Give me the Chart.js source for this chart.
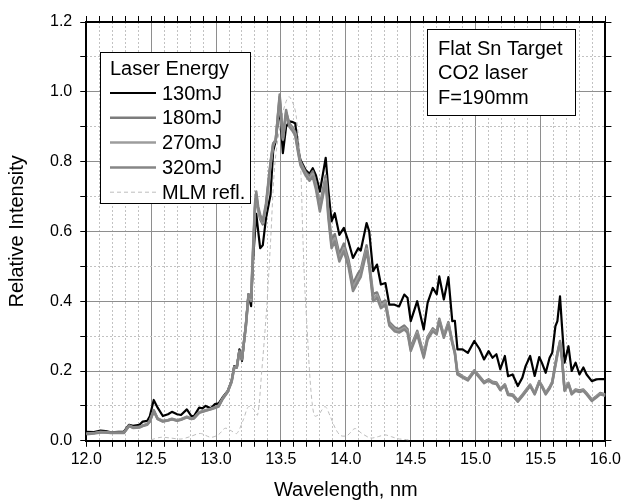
<!DOCTYPE html>
<html><head><meta charset="utf-8">
<script src="https://cdn.jsdelivr.net/npm/chart.js@4.4.0/dist/chart.umd.min.js"></script>
<style>html,body{margin:0;padding:0;background:#fff}canvas{display:block}</style>
</head><body>
<canvas id="c" width="624" height="502"></canvas>
<script>
// ---- data ----
const wavelength = [
12.00,12.06,12.11,12.15,12.19,12.25,12.29,12.33,12.36,12.41,
12.435,12.47,12.49,12.52,12.55,12.59,12.63,12.66,12.70,12.73,
12.775,12.81,12.83,12.87,12.895,12.92,12.96,12.99,13.02,13.05,
13.09,13.12,13.14,13.16,13.18,13.20,13.23,13.25,13.27,13.285,
13.30,13.31,13.325,13.34,13.36,13.385,13.42,13.44,13.46,13.49,
13.515,13.54,13.565,13.585,13.61,13.635,13.65,13.69,13.72,13.745,
13.77,13.80,13.845,13.865,13.89,13.915,13.95,13.985,14.02,14.055,
14.095,14.115,14.16,14.18,14.21,14.24,14.27,14.305,14.335,14.375,
14.41,14.45,14.475,14.50,14.55,14.60,14.63,14.67,14.70,14.72,
14.755,14.79,14.82,14.84,14.86,14.90,14.94,14.99,15.03,15.065,
15.10,15.13,15.16,15.19,15.225,15.25,15.285,15.325,15.36,15.385,
15.42,15.455,15.49,15.51,15.54,15.57,15.59,15.615,15.63,15.65,
15.665,15.685,15.715,15.74,15.77,15.80,15.83,15.855,15.895,15.93,
15.96,16.00];

const e130 = [
0.026,0.025,0.029,0.028,0.024,0.026,0.026,0.046,0.043,0.046,
0.055,0.057,0.070,0.117,0.095,0.071,0.076,0.083,0.076,0.074,
0.090,0.071,0.071,0.095,0.093,0.100,0.093,0.105,0.107,0.124,
0.143,0.171,0.214,0.210,0.262,0.229,0.334,0.420,0.386,0.514,
0.600,0.650,0.600,0.552,0.560,0.638,0.705,0.830,0.860,0.960,
0.824,0.900,0.915,0.914,0.910,0.830,0.805,0.776,0.765,0.781,
0.760,0.714,0.811,0.720,0.629,0.652,0.590,0.610,0.571,0.524,
0.552,0.545,0.624,0.600,0.486,0.505,0.448,0.452,0.390,0.390,
0.385,0.419,0.410,0.343,0.400,0.319,0.395,0.438,0.420,0.471,
0.405,0.469,0.343,0.344,0.262,0.262,0.252,0.286,0.263,0.233,
0.257,0.238,0.248,0.205,0.243,0.185,0.190,0.157,0.181,0.214,
0.243,0.186,0.240,0.224,0.195,0.238,0.252,0.329,0.343,0.414,
0.330,0.224,0.271,0.200,0.224,0.190,0.210,0.190,0.171,0.176,
0.177,0.177];

const e180 = [
0.021,0.022,0.025,0.025,0.023,0.023,0.023,0.044,0.039,0.040,
0.044,0.048,0.058,0.088,0.064,0.057,0.060,0.063,0.059,0.062,
0.069,0.064,0.066,0.082,0.085,0.088,0.092,0.096,0.100,0.121,
0.142,0.172,0.212,0.212,0.258,0.233,0.332,0.418,0.400,0.535,
0.665,0.700,0.660,0.635,0.620,0.670,0.795,0.850,0.862,0.985,
0.862,0.940,0.910,0.900,0.885,0.830,0.800,0.770,0.758,0.772,
0.738,0.675,0.760,0.662,0.575,0.592,0.535,0.565,0.520,0.450,
0.480,0.490,0.560,0.512,0.420,0.425,0.395,0.402,0.340,0.325,
0.320,0.330,0.320,0.268,0.315,0.248,0.298,0.322,0.312,0.350,
0.302,0.340,0.285,0.255,0.195,0.185,0.177,0.202,0.185,0.169,
0.176,0.169,0.167,0.149,0.162,0.135,0.133,0.116,0.132,0.144,
0.161,0.137,0.171,0.159,0.137,0.154,0.169,0.222,0.252,0.283,
0.238,0.147,0.166,0.137,0.147,0.144,0.147,0.137,0.118,0.128,
0.137,0.133];

const e270 = [
0.020,0.022,0.025,0.024,0.023,0.023,0.023,0.042,0.038,0.039,
0.043,0.047,0.056,0.084,0.063,0.056,0.059,0.061,0.058,0.061,
0.068,0.063,0.065,0.081,0.084,0.087,0.091,0.095,0.099,0.120,
0.141,0.168,0.208,0.212,0.252,0.236,0.328,0.415,0.405,0.540,
0.670,0.705,0.665,0.640,0.625,0.675,0.790,0.845,0.865,0.975,
0.865,0.935,0.905,0.895,0.880,0.825,0.795,0.765,0.750,0.765,
0.730,0.665,0.750,0.650,0.562,0.580,0.522,0.552,0.508,0.438,
0.468,0.480,0.550,0.505,0.410,0.418,0.388,0.396,0.335,0.320,
0.315,0.324,0.315,0.262,0.310,0.243,0.294,0.318,0.309,0.346,
0.299,0.336,0.282,0.252,0.192,0.183,0.175,0.200,0.183,0.167,
0.174,0.167,0.165,0.147,0.160,0.133,0.131,0.114,0.130,0.142,
0.159,0.135,0.169,0.157,0.135,0.152,0.167,0.215,0.245,0.280,
0.236,0.145,0.164,0.135,0.145,0.142,0.145,0.135,0.116,0.126,
0.135,0.131];

const e320 = [
0.019,0.021,0.024,0.024,0.022,0.022,0.022,0.043,0.037,0.038,
0.042,0.046,0.055,0.086,0.062,0.055,0.058,0.062,0.057,0.060,
0.067,0.062,0.064,0.080,0.083,0.086,0.090,0.094,0.098,0.119,
0.140,0.170,0.210,0.210,0.255,0.235,0.330,0.420,0.410,0.550,
0.680,0.714,0.670,0.648,0.630,0.680,0.800,0.852,0.860,0.992,
0.870,0.948,0.900,0.890,0.875,0.820,0.790,0.760,0.745,0.757,
0.720,0.657,0.743,0.640,0.552,0.571,0.514,0.543,0.500,0.429,
0.457,0.470,0.543,0.500,0.400,0.410,0.380,0.390,0.330,0.314,
0.310,0.319,0.310,0.257,0.305,0.238,0.290,0.314,0.305,0.343,
0.295,0.333,0.280,0.250,0.190,0.181,0.173,0.198,0.181,0.165,
0.172,0.165,0.163,0.145,0.158,0.131,0.129,0.112,0.128,0.140,
0.157,0.133,0.167,0.155,0.133,0.150,0.165,0.219,0.250,0.286,
0.240,0.143,0.162,0.133,0.143,0.140,0.143,0.133,0.114,0.124,
0.133,0.129];

const mlmWavelength = [12.50,12.575,12.65,12.73,12.80,12.88,12.96,13.02,13.07,13.12,
13.16,13.21,13.25,13.29,13.32,13.35,13.39,13.42,13.455,13.51,
13.56,13.60,13.62,13.65,13.67,13.685,13.70,13.72,13.74,13.76,
13.79,13.84,13.88,13.92,13.96,14.01,14.07,14.12,14.19,14.25,
14.30,14.35,14.40,14.45,14.50];
const mlmRefl = [0.003,0.010,0.008,0.005,0.012,0.021,0.010,0.018,0.036,0.028,
0.021,0.060,0.098,0.090,0.074,0.190,0.380,0.570,0.800,0.933,
0.986,0.960,0.924,0.800,0.571,0.430,0.333,0.200,0.110,0.071,
0.075,0.098,0.070,0.035,0.015,0.015,0.035,0.022,0.008,0.012,
0.017,0.012,0.006,0.004,0.002];

const seriesLabels = ['130mJ','180mJ','270mJ','320mJ','MLM refl.'];
const legendTitle = 'Laser Energy';
const noteLines = ['Flat Sn Target','CO2 laser','F=190mm'];
const xMajorTicks = [12.0,12.5,13.0,13.5,14.0,14.5,15.0,15.5,16.0];
const yMajorTicks = [0.0,0.2,0.4,0.6,0.8,1.0,1.2];
const xTitle = 'Wavelength, nm';
const yTitle = 'Relative Intensity';

// ---- chart ----
const FONT = "'Liberation Sans', Arial, sans-serif";
const pts = (xs, ys) => xs.map((x, i) => ({x, y: ys[i]}));
const isMajor = (list, v) => list.some(t => Math.abs(t - v) < 1e-6);
const MAJOR_GRID = '#8e8e8e', MINOR_GRID = '#c2c2c2', CLEAR = 'rgba(0,0,0,0)';

const bg = { id: 'bg', beforeDraw(c) { const g = c.ctx; g.save(); g.fillStyle = '#fff'; g.fillRect(0, 0, c.width, c.height); g.restore(); } };

const boxes = {
  id: 'boxes',
  afterDraw(c) {
    const g = c.ctx;
    g.save();
    g.font = '20px ' + FONT;
    g.textBaseline = 'middle';
    // legend
    g.fillStyle = '#fff'; g.fillRect(100, 52, 150, 151);
    g.strokeStyle = '#000'; g.lineWidth = 1; g.strokeRect(100.5, 52.5, 150, 151);
    g.fillStyle = '#000';
    g.fillText(legendTitle, 110, 69);
    c.data.datasets.forEach((ds, i) => {
      const y = 93 + i * 24.8;
      g.save();
      g.strokeStyle = ds.borderColor; g.lineWidth = ds.borderWidth;
      g.setLineDash(ds.borderDash || []);
      g.beginPath(); g.moveTo(110, y); g.lineTo(156, y); g.stroke();
      g.restore();
      g.fillStyle = '#000';
      g.fillText(ds.label, 162, y + 1);
    });
    // note box
    g.fillStyle = '#fff'; g.fillRect(427, 29, 148, 86);
    g.strokeStyle = '#000'; g.lineWidth = 1; g.strokeRect(427.5, 29.5, 148, 86);
    g.fillStyle = '#000';
    noteLines.forEach((t, i) => g.fillText(t, 438, 49 + i * 24.5));
    g.restore();
  }
};

const minorAxis = (pos, min, max, step, list) => ({
  type: 'linear', position: pos, min, max,
  ticks: { display: false, stepSize: step },
  grid: { drawTicks: false, lineWidth: 1,
    color: ctx => (ctx.tick && isMajor(list, ctx.tick.value)) ? CLEAR : MINOR_GRID },
  border: { display: false, dash: [2, 2] }
});
const mirrorAxis = (pos, min, max, step) => ({
  type: 'linear', position: pos, min, max,
  ticks: { display: false, stepSize: step },
  grid: { drawOnChartArea: false, drawTicks: true, tickLength: 6, tickColor: '#000', tickWidth: 1 },
  border: { display: true, color: '#000', width: 2 }
});

new Chart(document.getElementById('c'), {
  type: 'line',
  data: {
    datasets: [
      { label: seriesLabels[0], data: pts(wavelength, e130), borderColor: '#000000', borderWidth: 2.2, order: 4 },
      { label: seriesLabels[1], data: pts(wavelength, e180), borderColor: '#7c7c7c', borderWidth: 2.5, order: 3 },
      { label: seriesLabels[2], data: pts(wavelength, e270), borderColor: '#9c9c9c', borderWidth: 2.5, order: 2 },
      { label: seriesLabels[3], data: pts(wavelength, e320), borderColor: '#868686', borderWidth: 2.5, order: 1 },
      { label: seriesLabels[4], data: pts(mlmWavelength, mlmRefl), borderColor: '#bdbdbd', borderWidth: 1, borderDash: [4, 3], tension: 0.3, order: 5 }
    ]
  },
  options: {
    responsive: false, animation: false, devicePixelRatio: 1,
    elements: { point: { radius: 0 }, line: { tension: 0, borderJoinStyle: 'round', fill: false } },
    layout: { padding: { top: 16, right: 12, left: 0, bottom: 0 } },
    plugins: { legend: { display: false }, tooltip: { enabled: false } },
    scales: {
      x: {
        type: 'linear', position: 'bottom', min: 12, max: 16,
        ticks: { stepSize: 0.1, autoSkip: false, maxRotation: 0, padding: 3, color: '#000',
          font: { family: FONT, size: 16 },
          callback: v => isMajor(xMajorTicks, v) ? v.toFixed(1) : '' },
        grid: { lineWidth: 1, tickLength: 6, tickColor: '#000',
          color: ctx => (ctx.tick && isMajor(xMajorTicks, ctx.tick.value)) ? MAJOR_GRID : CLEAR },
        border: { display: true, color: '#000', width: 2 },
        title: { display: true, text: xTitle, color: '#000', font: { family: FONT, size: 20 }, padding: { top: 6, bottom: 0 } }
      },
      xMinor: minorAxis('bottom', 12, 16, 0.1, xMajorTicks),
      xTop: mirrorAxis('top', 12, 16, 0.1),
      y: {
        type: 'linear', position: 'left', min: 0, max: 1.2,
        ticks: { stepSize: 0.1, autoSkip: false, padding: 8, color: '#000',
          font: { family: FONT, size: 16 },
          callback: v => isMajor(yMajorTicks, v) ? v.toFixed(1) : '' },
        grid: { lineWidth: 1, tickLength: 6, tickColor: '#000',
          color: ctx => (ctx.tick && isMajor(yMajorTicks, ctx.tick.value)) ? MAJOR_GRID : CLEAR },
        border: { display: true, color: '#000', width: 2 },
        title: { display: true, text: yTitle, color: '#000', font: { family: FONT, size: 20 }, padding: { top: 5, bottom: 13 } }
      },
      yMinor: minorAxis('left', 0, 1.2, 0.1, yMajorTicks),
      yRight: mirrorAxis('right', 0, 1.2, 0.1)
    }
  },
  plugins: [bg, boxes]
});
</script>
</body></html>
